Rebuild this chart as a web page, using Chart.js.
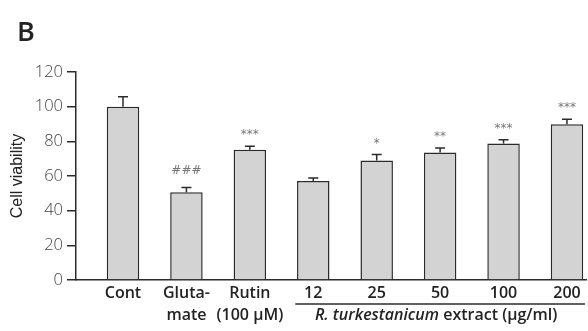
<!DOCTYPE html>
<html>
<head>
<meta charset="utf-8">
<script src="https://cdn.jsdelivr.net/npm/chart.js@4.4.1/dist/chart.umd.min.js"></script>
<style>
  html, body { margin: 0; padding: 0; background: #fff; }
  #wrap { width: 588px; height: 331px; position: relative; }
</style>
</head>
<body>
<div id="wrap"><canvas id="chart"></canvas></div>
<script>
// values
const categories = [['Cont'], ['Gluta-', 'mate'], ['Rutin', '(100 \u03bcM)'], ['12'], ['25'], ['50'], ['100'], ['200']]
const viability = [100, 50.6, 75.2, 57.1, 68.9, 73.5, 78.7, 89.8]
const sem = [5.7, 2.7, 1.9, 1.8, 3.5, 2.6, 2.2, 3.0]
const significance = ['', '###', '***', '', '*', '**', '***', '***']
const yTicks = [0, 20, 40, 60, 80, 100, 120]
const extractGroup = [3, 7]   // first and last index under the extract label
const extractItalic = 'R. turkestanicum'
const extractRest = ' extract (\u03bcg/ml)'

const ink = '#2b2b2b'

const annotations = {
    id: 'annotations',
    afterDatasetsDraw(chart) {
        const ctx = chart.ctx
        const x = chart.scales.x
        const y = chart.scales.y
        ctx.save()
        // error bars
        ctx.strokeStyle = ink
        ctx.lineWidth = 1.5
        viability.forEach((v, i) => {
            const px = x.getPixelForValue(i)
            const top = y.getPixelForValue(v + sem[i])
            ctx.beginPath()
            ctx.moveTo(px, y.getPixelForValue(v))
            ctx.lineTo(px, top)
            ctx.moveTo(px - 5, top)
            ctx.lineTo(px + 5, top)
            ctx.stroke()
            if (significance[i]) {
                ctx.fillStyle = '#777'
                ctx.font = '12px "DejaVu Sans"'
                ctx.textAlign = 'center'
                ctx.textBaseline = 'middle'
                const off = significance[i].startsWith('#') ? 17 : 11
                ctx.fillText(significance[i], px, top - off)
            }
        })

        // category labels
        ctx.fillStyle = '#222'
        ctx.font = '600 16px "Open Sans"'
        ctx.textAlign = 'center'
        ctx.textBaseline = 'alphabetic'
        categories.forEach((lines, i) => {
            const px = x.getPixelForValue(i)
            lines.forEach((t, k) => ctx.fillText(t, px, y.bottom + 18 + k * 22))
        })

        // extract group line + label
        const gx0 = x.getPixelForValue(extractGroup[0]) - 18
        const gx1 = x.getPixelForValue(extractGroup[1]) + 18
        ctx.beginPath()
        ctx.moveTo(gx0, y.bottom + 24)
        ctx.lineTo(gx1, y.bottom + 24)
        ctx.stroke()
        ctx.textAlign = 'left'
        ctx.font = 'italic 600 16px "Open Sans"'
        const w1 = ctx.measureText(extractItalic).width
        ctx.font = '600 16px "Open Sans"'
        const w2 = ctx.measureText(extractRest).width
        let sx = (gx0 + gx1) / 2 - (w1 + w2) / 2 - 4
        ctx.font = 'italic 600 16px "Open Sans"'
        ctx.fillText(extractItalic, sx, y.bottom + 40)
        ctx.font = '600 16px "Open Sans"'
        ctx.fillText(extractRest, sx + w1, y.bottom + 40)

        // panel letter
        ctx.font = '600 27px "Open Sans"'
        ctx.fillStyle = '#222'
        ctx.fillText('B', 17, 41)
        ctx.restore()
    }
}

new Chart(document.getElementById('chart'), {
    type: 'bar',
    data: {
        datasets: [{
            data: viability.map((v, i) => ({x: i, y: v})),
            backgroundColor: '#d3d3d3',
            borderColor: ink,
            borderWidth: 1.5,
            categoryPercentage: 1,
            barPercentage: 0.512
        }]
    },
    options: {
        responsive: true,
        maintainAspectRatio: false,
        animation: false,
        layout: {padding: {top: 72, right: 2, bottom: 43, left: 0}},
        plugins: {legend: {display: false}, tooltip: {enabled: false}},
        scales: {
            x: {
                type: 'linear',
                offset: false,
                min: -0.741,
                max: 7.30,
                grid: {display: false},
                ticks: {display: false},
                border: {color: ink, width: 1.5}
            },
            y: {
                min: 0,
                max: 120,
                afterBuildTicks(scale) { scale.ticks = yTicks.map(v => ({value: v})) },
                afterFit(scale) { scale.width = 76 },
                grid: {drawOnChartArea: false, drawTicks: true, tickLength: 9, color: ink, lineWidth: 1.5},
                border: {color: ink, width: 1.5},
                ticks: {padding: 4, color: '#444', font: {family: 'Open Sans', size: 16.5, weight: 300}},
                title: {
                    display: true,
                    text: 'Cell viability',
                    color: '#222',
                    padding: {top: 8, bottom: 0},
                    font: {family: 'Liberation Sans', size: 16}
                }
            }
        }
    },
    plugins: [annotations]
})
</script>
</body>
</html>
